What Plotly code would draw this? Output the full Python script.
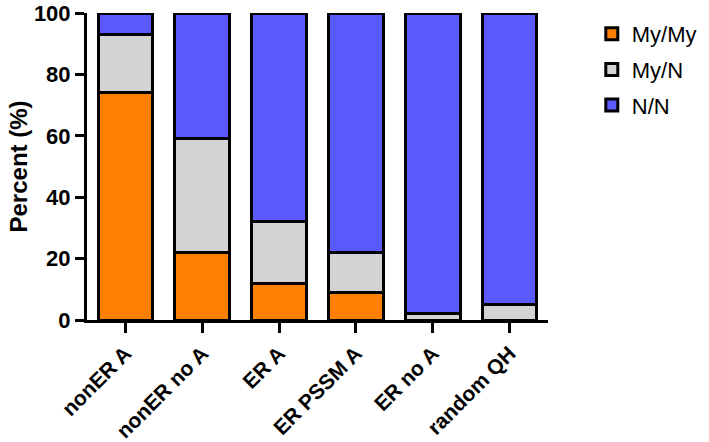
import plotly.graph_objects as go

categories = ["nonER A", "nonER no A", "ER A", "ER PSSM A", "ER no A", "random QH"]
my_my = [74, 22, 12, 9, 0, 0]
my_n = [19, 37, 20, 13, 2, 5]
n_n = [7, 41, 68, 78, 98, 95]
series_names = ["My/My", "My/N", "N/N"]
colors = ["#FF8000", "#D3D3D3", "#5A5AFF"]
y_ticks = [0, 20, 40, 60, 80, 100]

fig = go.Figure()
for name, vals, col in zip(series_names, [my_my, my_n, n_n], colors):
    fig.add_trace(go.Bar(
        x=categories, y=vals, name=name, legendgroup=name,
        marker=dict(color=col, line=dict(color="black", width=3)),
        width=0.71,
    ))

font_family = "Arial"
fig.update_layout(
    barmode="stack",
    width=709, height=442,
    margin=dict(l=87, r=161, t=13, b=122, autoexpand=False),
    plot_bgcolor="white", paper_bgcolor="white",
    font=dict(family=font_family, color="black"),
    legend=dict(
        x=1.095, y=1.0, xanchor="left", yanchor="top",
        font=dict(size=22, family=font_family, color="black"),
        traceorder="grouped", itemwidth=30,
        tracegroupgap=4,
    ),
    showlegend=True,
)
fig.update_xaxes(
    range=[-0.5, 5.5],
    automargin=False,
    showline=True, linecolor="black", linewidth=3,
    ticks="outside", ticklen=10, tickwidth=3, tickcolor="black",
    tickangle=-45,
    ticklabeloverflow="allow",
    tickfont=dict(size=21, family=font_family, color="black", weight="bold"),
    showgrid=False, zeroline=False,
)
fig.update_yaxes(
    range=[0, 100],
    automargin=False,
    tickvals=y_ticks,
    ticklabeloverflow="allow",
    showline=True, linecolor="black", linewidth=3,
    ticks="outside", ticklen=9, tickwidth=3, tickcolor="black",
    tickfont=dict(size=22, family=font_family, color="black", weight="bold"),
    title=dict(text="Percent (%)", font=dict(size=24, family=font_family, color="black", weight="bold"), standoff=0),
    showgrid=False, zeroline=False,
)

# remove the browser's default body margin so the figure sits at the page corner
fig.write_html(
    "out.html",
    config={"displayModeBar": False},
    post_script="document.body.style.margin='0';",
)
